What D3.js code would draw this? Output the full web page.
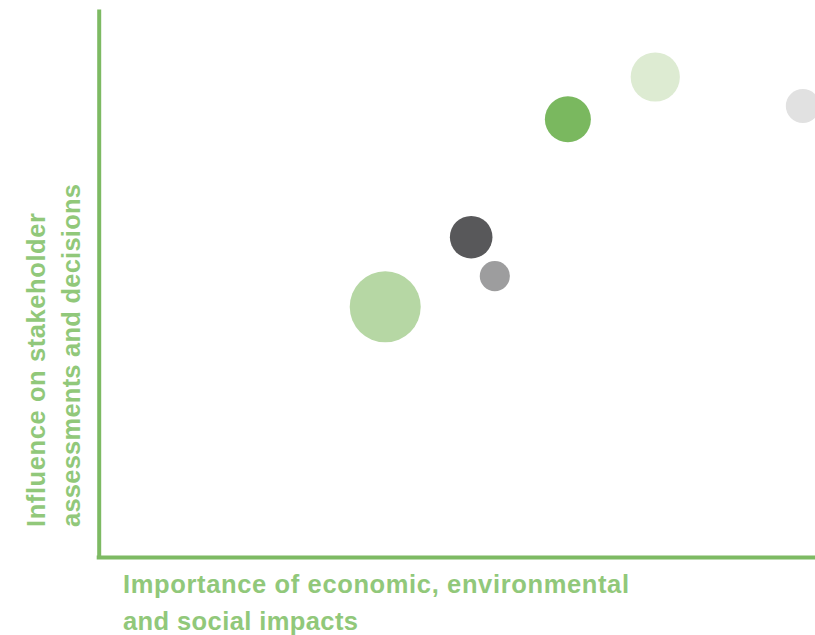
<!DOCTYPE html>
<html lang="en">
<head>
    <meta charset="UTF-8">
    <title>Materiality matrix</title>
    <script src="https://d3js.org/d3.v7.min.js"></script>
    <style>
        body { margin: 0; background: #fff; }
        .lbl { font-family: "Liberation Sans", Arial, sans-serif; font-weight: bold; fill: #91c87a; }
    </style>
</head>
<body>
<div id="chart"></div>
<script>
    // importance (x), influence (y), bubble size
    let topics = ['t1', 't2', 't3', 't4', 't5', 't6'];
    let importance = [40.0, 52.0, 55.3, 65.5, 77.7, 98.3];
    let influence = [45.7, 58.4, 51.3, 79.9, 87.6, 82.3];
    let sizes = [100, 36, 18, 42, 48, 23];
    let colors = ['#b6d7a4', '#58585a', '#9d9d9e', '#7ab85f', '#ddebd2', '#e1e1e1'];

    let xTitle = ['Importance of economic, environmental', 'and social impacts'];
    let yTitle = ['Influence on stakeholder', 'assessments and decisions'];

    let W = 815, H = 635;
    let margin = {top: 9, right: 0, bottom: 77.5, left: 98.7};

    let svg = d3.select('#chart')
        .append('svg')
        .attr('width', W)
        .attr('height', H);

    let x = d3.scaleLinear()
        .domain([0, 100])
        .range([margin.left, W - margin.right]);

    let y = d3.scaleLinear()
        .domain([0, 100])
        .range([H - margin.bottom, margin.top]);

    let r = d3.scaleSqrt()
        .domain([0, 100])
        .range([0, 35.5]);

    // axes: just the green domain lines
    let gx = svg.append('g')
        .attr('transform', 'translate(0,' + (H - margin.bottom) + ')')
        .call(d3.axisBottom(x).tickValues([]).tickSizeOuter(0));
    let gy = svg.append('g')
        .attr('transform', 'translate(' + margin.left + ',0)')
        .call(d3.axisLeft(y).tickValues([]).tickSizeOuter(0));
    svg.selectAll('.domain')
        .attr('stroke', '#7dba63')
        .attr('stroke-width', 4);
    // square the corner
    gx.select('.domain').attr('d', 'M' + (margin.left - 2) + ',0H' + W);

    let data = topics.map(function (t, i) {
        return {name: t, x: importance[i], y: influence[i], s: sizes[i], c: colors[i]};
    });

    svg.append('g')
        .selectAll('circle')
        .data(data)
        .enter()
        .append('circle')
        .attr('cx', function (d) { return x(d.x); })
        .attr('cy', function (d) { return y(d.y); })
        .attr('r', function (d) { return r(d.s); })
        .attr('fill', function (d) { return d.c; });

    // axis titles (widths stretched to match the original typeface)
    let xLen = [506, 235];
    let yLen = [314, 343];

    svg.append('g')
        .selectAll('text')
        .data(xTitle)
        .enter()
        .append('text')
        .attr('class', 'lbl')
        .attr('x', 123)
        .attr('y', function (d, i) { return 593 + i * 37; })
        .attr('font-size', 25.5)
        .attr('textLength', function (d, i) { return xLen[i]; })
        .attr('lengthAdjust', 'spacing')
        .text(function (d) { return d; });

    svg.append('g')
        .attr('transform', 'translate(45,527) rotate(-90)')
        .selectAll('text')
        .data(yTitle)
        .enter()
        .append('text')
        .attr('class', 'lbl')
        .attr('x', 0)
        .attr('y', function (d, i) { return i * 35; })
        .attr('font-size', 25.5)
        .attr('textLength', function (d, i) { return yLen[i]; })
        .attr('lengthAdjust', 'spacing')
        .text(function (d) { return d; });
</script>
</body>
</html>
